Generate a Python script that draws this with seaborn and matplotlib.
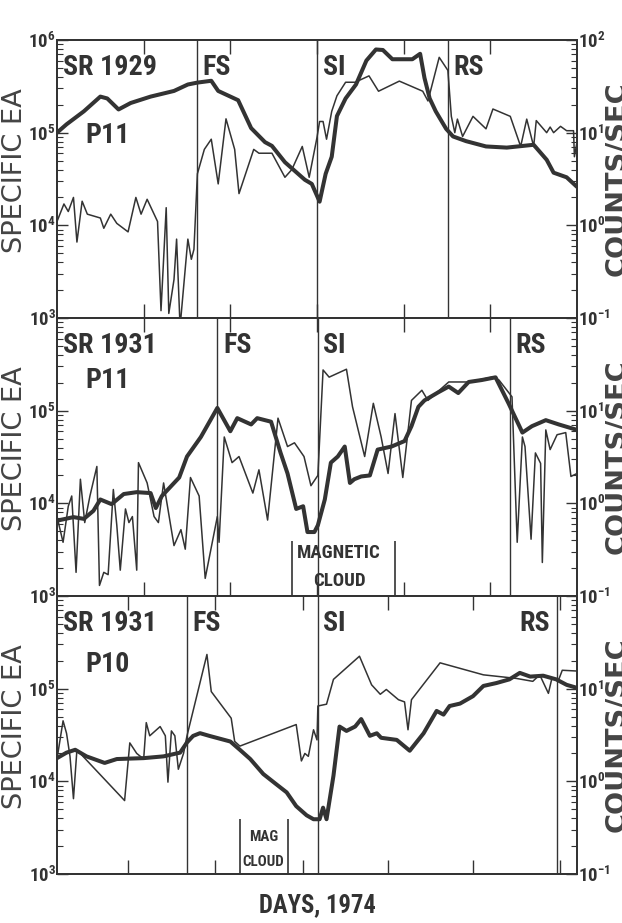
import matplotlib
matplotlib.use("Agg")
import matplotlib.pyplot as plt
from matplotlib import font_manager as fm
from matplotlib.textpath import TextToPath
from matplotlib.ticker import FixedLocator, LogLocator, FuncFormatter, NullFormatter
import numpy as np
import seaborn as sns

# ---- panel 1: SR 1929, P11 ----
p1_ea_day = [0, 0.11, 0.31, 0.5, 0.58, 0.71, 0.85, 1.08, 1.35, 1.51, 1.62, 1.78, 1.86, 2.09,
             2.24, 2.4, 2.48, 2.63, 2.86, 2.94, 3.03, 3.10, 3.17, 3.23, 3.33, 3.45, 3.57, 3.68,
             3.76, 3.87, 4.10, 4.19, 4.24, 4.30, 4.37, 4.49, 4.57, 4.72, 4.95, 5.19, 5.50, 5.65,
             5.73, 5.88, 6.0]
p1_ea = [1.0e5, 1.23e5, 1.7e5, 2.45e5, 2.34e5, 1.78e5, 2.09e5, 2.45e5, 2.82e5, 3.31e5, 3.47e5,
         3.63e5, 2.82e5, 2.24e5, 1.12e5, 7.9e4, 7.2e4, 4.8e4, 3.1e4, 2.8e4, 1.8e4, 3.6e4, 5.5e4,
         1.51e5, 2.34e5, 3.31e5, 6.0e5, 7.9e5, 7.8e5, 6.2e5, 6.2e5, 7.1e5, 3.9e5, 2.34e5, 1.7e5,
         1.1e5, 9.1e4, 8.1e4, 7.1e4, 6.9e4, 7.4e4, 5.1e4, 3.7e4, 3.3e4, 2.6e4]
p1_cnt_day = [0, 0.08, 0.13, 0.19, 0.23, 0.29, 0.35, 0.5, 0.54, 0.62, 0.69, 0.82, 0.91, 0.97,
              1.04, 1.16, 1.20, 1.26, 1.29, 1.35, 1.38, 1.42, 1.51, 1.55, 1.58, 1.62, 1.70, 1.78,
              1.86, 1.95, 2.05, 2.10, 2.27, 2.33, 2.48, 2.63, 2.71, 2.83, 2.91, 3.00, 3.03, 3.07,
              3.11, 3.17, 3.23, 3.33, 3.44, 3.60, 3.71, 3.95, 4.22, 4.28, 4.41, 4.51, 4.55, 4.59,
              4.62, 4.68, 4.80, 4.95, 5.03, 5.23, 5.35, 5.42, 5.50, 5.53, 5.65, 5.69, 5.73, 5.81,
              5.88, 5.96, 5.97, 6.0]
p1_cnt = [1.10, 1.70, 1.41, 2.0, 0.66, 1.82, 1.32, 1.20, 0.93, 1.32, 1.05, 0.85, 2.0, 1.32,
          1.91, 1.10, 0.12, 1.55, 0.112, 0.26, 0.71, 0.08, 0.71, 0.43, 0.55, 3.6, 6.6, 8.5,
          2.8, 14.1, 6.6, 2.2, 6.6, 6.0, 6.0, 3.3, 4.0, 7.1, 3.3, 8.9, 13.2, 13.2,
          8.5, 17, 25, 35, 35, 41, 28, 36, 28, 22, 65, 47, 15, 10,
          14, 9.1, 15, 11, 18, 15, 7.1, 14, 7.1, 13.5, 10, 11.5, 10, 11.7,
          10.5, 10.5, 5.5, 7.9]

# ---- panel 2: SR 1931, P11 ----
p2_ea_day = [0.0, 0.19, 0.31, 0.42, 0.50, 0.63, 0.77, 0.92, 1.08, 1.14, 1.21, 1.41, 1.50, 1.66,
             1.85, 2.00, 2.08, 2.24, 2.31, 2.47, 2.58, 2.66, 2.76, 2.84, 2.89, 2.97, 3.01, 3.09,
             3.16, 3.24, 3.32, 3.38, 3.43, 3.51, 3.61, 3.70, 3.86, 4.01, 4.09, 4.17, 4.24, 4.40,
             4.52, 4.63, 4.75, 4.90, 5.06, 5.21, 5.37, 5.48, 5.64, 5.79, 6.0]
p2_ea = [6.5e3, 7.1e3, 6.8e3, 8.3e3, 1.1e4, 9.8e3, 1.26e4, 1.32e4, 1.29e4, 8.9e3, 1.2e4, 1.9e4,
         3.2e4, 5.2e4, 1.07e5, 6.0e4, 8.3e4, 7.1e4, 8.3e4, 7.6e4, 3.5e4, 2.1e4, 8.7e3, 9.3e3,
         4.9e3, 4.9e3, 5.8e3, 1.1e4, 2.75e4, 3.2e4, 4.1e4, 1.66e4, 1.82e4, 1.95e4, 2.0e4, 3.8e4,
         4.1e4, 4.7e4, 6.8e4, 1.1e5, 1.29e5, 1.58e5, 1.82e5, 1.55e5, 2.04e5, 2.14e5, 2.29e5,
         1.2e5, 5.8e4, 6.8e4, 7.9e4, 7.1e4, 6.2e4]
p2_cnt_day = [0.0, 0.07, 0.13, 0.17, 0.22, 0.27, 0.32, 0.38, 0.46, 0.49, 0.54, 0.59, 0.65, 0.69,
              0.73, 0.79, 0.83, 0.87, 0.92, 0.94, 1.04, 1.12, 1.17, 1.23, 1.35, 1.43, 1.48, 1.54,
              1.64, 1.71, 1.85, 1.87, 1.93, 2.02, 2.10, 2.26, 2.33, 2.43, 2.55, 2.66, 2.74, 2.85,
              2.93, 3.01, 3.07, 3.14, 3.34, 3.41, 3.55, 3.65, 3.74, 3.82, 3.90, 3.99, 4.09, 4.21,
              4.28, 4.52, 4.75, 5.02, 5.10, 5.25, 5.31, 5.37, 5.40, 5.47, 5.52, 5.58, 5.60, 5.64,
              5.69, 5.77, 5.87, 5.93, 6.0]
p2_cnt = [0.72, 0.38, 0.93, 1.2, 0.18, 1.82, 0.62, 1.2, 2.5, 0.13, 0.18, 0.17, 1.41, 0.58,
          0.19, 0.87, 0.62, 0.72, 0.19, 2.75, 1.66, 0.72, 0.62, 1.66, 0.35, 0.52, 0.32, 1.9,
          1.2, 0.155, 0.72, 0.38, 5.2, 2.75, 3.2, 1.29, 2.3, 0.66, 8.3, 4.1, 4.5, 3.2,
          1.55, 2.0, 27.5, 23, 28, 11, 3.2, 12, 5.2, 2.1, 9.3, 1.9, 12.9, 16.6,
          12.9, 20.4, 20.4, 23, 21.4, 14.1, 0.38, 5.2, 4.1, 0.41, 3.5, 2.7, 0.23, 6.2,
          3.8, 5.5, 5.8, 1.95, 2.1]

# ---- panel 3: SR 1931, P10 ----
p3_ea_day = [0, 0.11, 0.21, 0.34, 0.55, 0.69, 1.00, 1.23, 1.42, 1.50, 1.57, 1.65, 1.76, 2.00,
             2.11, 2.23, 2.38, 2.53, 2.65, 2.76, 2.88, 2.96, 3.03, 3.07, 3.11, 3.19, 3.26, 3.34,
             3.44, 3.51, 3.61, 3.69, 3.74, 3.92, 4.07, 4.23, 4.38, 4.46, 4.53, 4.65, 4.80, 4.92,
             5.07, 5.22, 5.34, 5.46, 5.61, 5.76, 5.88, 6.0]
p3_ea = [1.78e4, 2.04e4, 2.19e4, 1.86e4, 1.58e4, 1.74e4, 1.78e4, 1.86e4, 2.04e4, 2.63e4, 3.09e4,
         3.31e4, 3.09e4, 2.69e4, 2.19e4, 1.74e4, 1.2e4, 9.3e3, 7.6e3, 5.4e3, 4.3e3, 3.9e3, 3.9e3,
         5.2e3, 3.9e3, 1.15e4, 3.9e4, 3.5e4, 3.9e4, 4.7e4, 3.1e4, 3.3e4, 2.95e4, 2.8e4, 2.14e4,
         3.3e4, 5.75e4, 5.25e4, 6.5e4, 6.9e4, 8.3e4, 1.07e5, 1.15e5, 1.26e5, 1.48e5, 1.35e5,
         1.38e5, 1.26e5, 1.1e5, 1.02e5]
p3_cnt_day = [0, 0.07, 0.11, 0.15, 0.19, 0.23, 0.30, 0.78, 0.84, 0.92, 1.00, 1.03, 1.07, 1.19,
              1.25, 1.28, 1.32, 1.36, 1.40, 1.46, 1.50, 1.73, 1.78, 2.01, 2.05, 2.11, 2.76, 2.82,
              2.86, 2.90, 2.96, 3.00, 3.01, 3.11, 3.19, 3.49, 3.63, 3.73, 3.80, 3.94, 4.01, 4.05,
              4.09, 4.42, 4.92, 5.30, 5.49, 5.57, 5.67, 5.71, 5.79, 5.83, 6.0]
p3_cnt = [1.74, 4.5, 3.3, 1.86, 0.65, 2.2, 1.86, 0.62, 2.6, 2.0, 1.74, 4.3, 3.1, 3.9,
          3.1, 0.98, 3.5, 3.1, 1.35, 2.0, 3.1, 23.4, 9.3, 4.8, 2.7, 2.4, 4.1, 1.66,
          2.0, 1.86, 3.6, 2.8, 6.5, 6.8, 12.6, 22.4, 11, 8.7, 9.8, 7.6, 7.2, 3.6,
          7.6, 19, 14.1, 12.9, 12, 14.1, 8.9, 12.9, 12.6, 15.8, 15.5]

# shock / boundary days and tick days
p1_bounds = {"FS": 1.61, "SI": 3.0, "RS": 4.51}
p2_bounds = {"FS": 1.85, "SI": 3.01, "RS": 5.23}
p3_bounds = {"FS": 1.50, "SI": 3.01, "RS": 5.77}
p2_cloud = [2.71, 3.90]
p3_cloud = [2.11, 2.66]
p12_ticks = [1, 2, 3, 4, 5]
p3_ticks = [0.82, 1.82, 2.84, 3.82, 4.8, 5.8]
ea_ticks = [1e3, 1e4, 1e5, 1e6]
cnt_ticks = [1e-1, 1e0, 1e1, 1e2]

INK = "#333333"


def have_font(name):
    try:
        fm.findfont(fm.FontProperties(family=name), fallback_to_default=False)
        return True
    except ValueError:
        return False


# a condensed bold face if one is there, else plain Liberation Sans
NARROW = next((n for n in ["Liberation Sans Narrow", "Roboto Condensed", "Open Sans Condensed"]
               if have_font(n)), "Liberation Sans")

_t2p = TextToPath()


def fit(s, width_px, family=NARROW, weight="bold"):
    # font size (pt) that makes s about width_px wide at 100 dpi
    prop = fm.FontProperties(family=family, weight=weight, size=100)
    w, _, _ = _t2p.get_text_width_height_descent(s, prop, ismath=False)
    return 100 * width_px / (w * 100 / 72)


sns.set_style("ticks")
plt.rcParams["font.family"] = [NARROW, "DejaVu Sans"]
plt.rcParams["font.weight"] = "bold"
plt.rcParams["mathtext.fontset"] = "custom"
plt.rcParams["mathtext.rm"] = NARROW + ":bold"
plt.rcParams["mathtext.it"] = NARROW + ":bold"
plt.rcParams["mathtext.bf"] = NARROW + ":bold"
plt.rcParams["text.color"] = INK
plt.rcParams["axes.edgecolor"] = INK
plt.rcParams["xtick.color"] = INK
plt.rcParams["ytick.color"] = INK

LABEL_SIZE = 1.08 * np.mean([fit("SR 1929", 94), fit("P11", 40), fit("FS", 25)])
TICK_SIZE = fit("10", 19)
DAYS_SIZE = fit("DAYS, 1974", 117)
MAGNETIC_SIZE = fit("MAGNETIC", 83)
MAG_SIZE = fit("CLOUD", 42)
YL_SIZE = fit("SPECIFIC EA", 165, family="DejaVu Sans", weight="normal")
YR_SIZE = fit("COUNTS/SEC", 195, family="DejaVu Sans", weight="bold")


def pow_label(top_ok):
    def fmt(v, pos):
        e = int(round(np.log10(v)))
        if not top_ok and pos == 3:
            return ""
        return r"$\mathregular{10^{%d}}$" % e
    return fmt


panels = [
    dict(ea_day=p1_ea_day, ea=p1_ea, cnt_day=p1_cnt_day, cnt=p1_cnt, bounds=p1_bounds,
         ticks=p12_ticks, title="SR 1929", probe="P11", probe_y=0.655, cloud=None),
    dict(ea_day=p2_ea_day, ea=p2_ea, cnt_day=p2_cnt_day, cnt=p2_cnt, bounds=p2_bounds,
         ticks=p12_ticks, title="SR 1931", probe="P11", probe_y=0.775, cloud=p2_cloud),
    dict(ea_day=p3_ea_day, ea=p3_ea, cnt_day=p3_cnt_day, cnt=p3_cnt, bounds=p3_bounds,
         ticks=p3_ticks, title="SR 1931", probe="P10", probe_y=0.755, cloud=p3_cloud),
]

fig = plt.figure(figsize=(6.22, 9.23), dpi=100)
left, width, height = 57 / 622, 520 / 622, 278 / 923
tops = [40, 318, 596]

for i, p in enumerate(panels):
    ax = fig.add_axes([left, 1 - (tops[i] + 278) / 923, width, height])
    ax.set_yscale("log")
    ax.set_xlim(0, 6)
    ax.set_ylim(1e3, 1e6)
    sns.lineplot(x=p["ea_day"], y=p["ea"], ax=ax, color=INK, linewidth=2.9,
                 estimator=None, sort=False, legend=False, solid_joinstyle="round")

    ax2 = ax.twinx()
    ax2.set_yscale("log")
    ax2.set_ylim(1e-1, 1e2)
    sns.lineplot(x=p["cnt_day"], y=p["cnt"], ax=ax2, color=INK, linewidth=1.1,
                 estimator=None, sort=False, legend=False)

    for name, d in p["bounds"].items():
        ax.axvline(d, color=INK, linewidth=1.0)
        if i == 2 and name == "RS":
            ax.annotate(name, xy=(d, 0.9), xycoords=ax.get_xaxis_transform(),
                        xytext=(-5, 0), textcoords="offset points", ha="right",
                        va="center", fontsize=LABEL_SIZE)
        else:
            ax.annotate(name, xy=(d, 0.9), xycoords=ax.get_xaxis_transform(),
                        xytext=(4, 0), textcoords="offset points", ha="left",
                        va="center", fontsize=LABEL_SIZE)

    ax.text(0.012, 0.9, p["title"], transform=ax.transAxes, ha="left", va="center",
            fontsize=LABEL_SIZE)
    ax.text(0.098, p["probe_y"], p["probe"], transform=ax.transAxes, ha="center",
            va="center", fontsize=LABEL_SIZE)

    if p["cloud"] is not None:
        a, b = p["cloud"]
        ax.vlines([a, b], 1e3, 3.9e3, color=INK, linewidth=1.2)
        mid = (a + b) / 2
        if i == 1:
            ax.text(mid - 0.05, 2.9e3, "MAGNETIC", ha="center", va="center",
                    fontsize=MAGNETIC_SIZE)
            ax.text(mid - 0.05, 1.45e3, "CLOUD", ha="center", va="center",
                    fontsize=MAGNETIC_SIZE)
        else:
            ax.text(mid, 2.5e3, "MAG", ha="center", va="center", fontsize=MAG_SIZE)
            ax.text(mid, 1.35e3, "CLOUD", ha="center", va="center", fontsize=MAG_SIZE)

    # x ticks: inward, top and bottom, no labels
    ax.set_xticks(p["ticks"])
    ax.tick_params(axis="x", which="major", direction="in", length=10, width=1.0,
                   top=True, bottom=True, labelbottom=False, labeltop=False)
    ax.set_xlabel("")
    ax.set_ylabel("")
    ax2.set_ylabel("")

    ax.yaxis.set_major_locator(FixedLocator(ea_ticks))
    ax.yaxis.set_minor_locator(LogLocator(base=10, subs=np.arange(2, 10)))
    ax.yaxis.set_minor_formatter(NullFormatter())
    ax.yaxis.set_major_formatter(FuncFormatter(pow_label(i == 0)))
    ax.tick_params(axis="y", which="major", direction="in", length=8, width=1.0,
                   left=True, right=False, pad=1, labelsize=TICK_SIZE)
    ax.tick_params(axis="y", which="minor", direction="in", length=4, width=0.8,
                   left=True, right=False)

    ax2.yaxis.set_major_locator(FixedLocator(cnt_ticks))
    ax2.yaxis.set_minor_locator(LogLocator(base=10, subs=np.arange(2, 10)))
    ax2.yaxis.set_minor_formatter(NullFormatter())
    ax2.yaxis.set_major_formatter(FuncFormatter(pow_label(i == 0)))
    ax2.tick_params(axis="y", which="major", direction="in", length=8, width=1.0,
                    right=True, left=False, pad=1, labelsize=TICK_SIZE)
    ax2.tick_params(axis="y", which="minor", direction="in", length=4, width=0.8,
                    right=True, left=False)

    for a_ in (ax, ax2):
        for s in a_.spines.values():
            s.set_linewidth(1.3)
            s.set_color(INK)

    ax.text(-0.081, 0.53, "SPECIFIC EA", transform=ax.transAxes, rotation=90,
            ha="center", va="center", fontsize=YL_SIZE, fontweight="normal",
            family="DejaVu Sans", color="#444444")
    ax.text(1.078, 0.5, "COUNTS/SEC", transform=ax.transAxes, rotation=90,
            ha="center", va="center", fontsize=YR_SIZE, fontweight="bold",
            family="DejaVu Sans", color="#444444")

fig.text(0.51, 0.0195, "DAYS, 1974", ha="center", va="center", fontsize=DAYS_SIZE)

fig.savefig("out.png", dpi=100)
